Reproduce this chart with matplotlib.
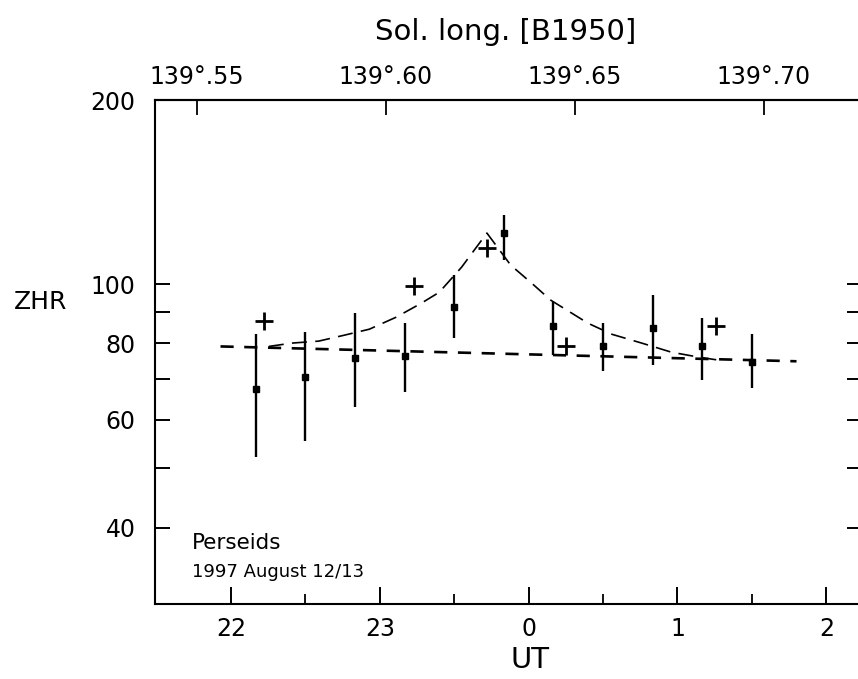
import matplotlib.pyplot as plt
import numpy as np
from matplotlib.ticker import FixedLocator, FixedFormatter

plt.rcParams['font.family'] = ['DejaVu Sans']

# Observed ZHR (UT in hours, 24 = 0h on Aug 13)
ut_obs = [22.167, 22.5, 22.833, 23.167, 23.5, 23.833, 24.167, 24.5, 24.833, 25.167, 25.5]
zhr_obs = [67.3, 70.4, 75.6, 76.2, 91.7, 121.2, 85.4, 79.1, 84.8, 79.1, 74.5]
zhr_hi = [82.8, 83.5, 89.6, 86.3, 103.4, 129.7, 93.4, 86.3, 95.9, 88.0, 82.8]
zhr_lo = [52.1, 55.5, 62.9, 66.6, 81.6, 109.5, 76.5, 72.1, 73.7, 69.6, 67.6]

# second data set (crosses)
ut_plus = [22.22, 23.23, 23.72, 24.25, 25.26]
zhr_plus = [87.0, 99.3, 114.5, 79.1, 85.4]

# background level (straight line)
ut_bg = [21.93, 25.80]
zhr_bg = [79.1, 74.8]

# fitted peak profile
ut_fit = [22.255, 22.41, 22.59, 22.76, 22.93, 23.11, 23.28, 23.40, 23.55, 23.72,
          23.88, 24.02, 24.15, 24.40, 24.56, 24.76, 24.96, 25.14, 25.28]
zhr_fit = [79.1, 80.1, 80.7, 82.5, 84.4, 88.3, 93.1, 97.0, 106.6, 121.2,
           107.4, 100.4, 94.1, 86.3, 82.8, 80.1, 77.4, 76.0, 75.1]

# axis ticks
ut_ticks = [22, 23, 24, 25, 26]
ut_labels = ['22', '23', '0', '1', '2']
ut_minor = [22.5, 23.5, 24.5, 25.5]
y_ticks = [40, 50, 60, 70, 80, 90, 100, 200]
y_labels = ['40', '', '60', '', '80', '', '100', '200']
sol_ticks = [139.55, 139.60, 139.65, 139.70]
sol_labels = ['139°.55', '139°.60', '139°.65', '139°.70']

t0, s0, rate = 21.77, 139.55, 0.15 / 3.81


def ut2sol(t):
    return s0 + (np.asarray(t) - t0) * rate


def sol2ut(s):
    return t0 + (np.asarray(s) - s0) / rate


fig = plt.figure(figsize=(8.58, 6.79), dpi=100)
ax = fig.add_axes([155 / 858, 1 - 604 / 679, 707 / 858, 504 / 679])

ax.plot(ut_bg, zhr_bg, color='black', lw=1.9, dashes=(5, 4))
ax.plot(ut_fit, zhr_fit, color='black', lw=1.2, dashes=(9, 5))

yerr = [np.array(zhr_obs) - np.array(zhr_lo), np.array(zhr_hi) - np.array(zhr_obs)]
ax.errorbar(ut_obs, zhr_obs, yerr=yerr, fmt='s', color='black', ms=4.5,
            elinewidth=1.7, capsize=0)
ax.plot(ut_plus, zhr_plus, '+', color='black', ms=13, mew=2)

ax.set_yscale('log')
ax.set_ylim(30, 200)
ax.set_xlim(21.49, 26.24)

ax.yaxis.set_major_locator(FixedLocator(y_ticks))
ax.yaxis.set_major_formatter(FixedFormatter(y_labels))
ax.yaxis.set_minor_locator(FixedLocator([]))
ax.xaxis.set_major_locator(FixedLocator(ut_ticks))
ax.xaxis.set_major_formatter(FixedFormatter(ut_labels))
ax.xaxis.set_minor_locator(FixedLocator(ut_minor))

ax.tick_params(axis='y', which='major', direction='in', length=11, width=1.4,
               left=True, right=True, labelsize=17, pad=14)
ax.tick_params(axis='x', which='major', direction='in', length=12, width=1.4,
               top=False, labelsize=17, pad=9)
ax.tick_params(axis='x', which='minor', direction='in', length=7, width=1.3, top=False)

for sp in ax.spines.values():
    sp.set_linewidth(1.5)

sec = ax.secondary_xaxis('top', functions=(ut2sol, sol2ut))
sec.xaxis.set_major_locator(FixedLocator(sol_ticks))
sec.xaxis.set_major_formatter(FixedFormatter(sol_labels))
sec.xaxis.set_minor_locator(FixedLocator([]))
sec.tick_params(direction='in', length=11, width=1.3, labelsize=17, pad=8)
sec.spines['top'].set_linewidth(1.5)

ax.text(192 / 858, 1 - 543 / 679, 'Perseids', transform=fig.transFigure,
        fontsize=15.5, va='center')
ax.text(192 / 858, 1 - 572 / 679, '1997 August 12/13', transform=fig.transFigure,
        fontsize=13, va='center')

fig.text(41 / 858, 1 - 302 / 679, 'ZHR', fontsize=18, ha='center', va='center')
fig.text(530 / 858, 1 - 660 / 679, 'UT', fontsize=21, ha='center', va='center')
fig.text(506 / 858, 1 - 32 / 679, 'Sol. long. [B1950]', fontsize=21,
         ha='center', va='center')

fig.savefig('out.png', dpi=100)
